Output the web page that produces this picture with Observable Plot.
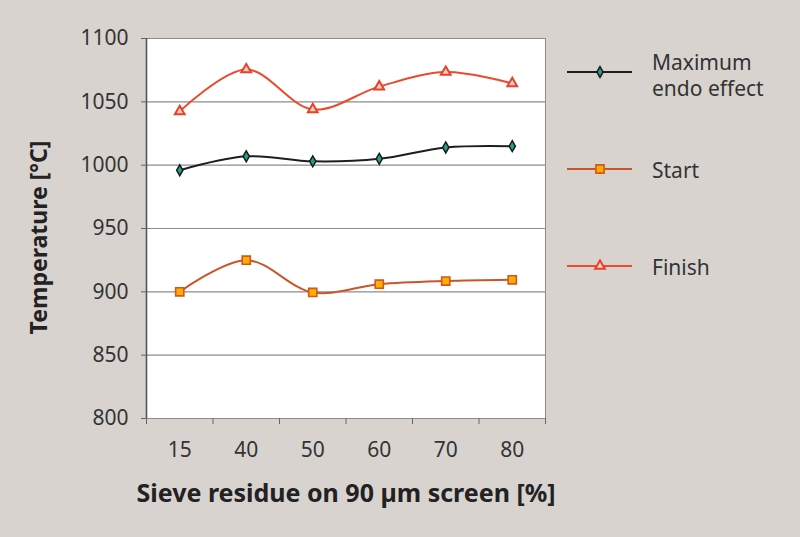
<!DOCTYPE html>
<html>
<head>
<meta charset="utf-8">
<script src="https://cdn.jsdelivr.net/npm/d3@7"></script>
<script src="https://cdn.jsdelivr.net/npm/@observablehq/plot@0.6"></script>
<style>
  html, body { margin:0; padding:0; background:#d9d3d0; }
  #wrap { position:relative; width:800px; height:537px; overflow:hidden; font-family:"Noto Sans", sans-serif; }
  #legend { position:absolute; left:0; top:0; width:800px; height:537px; pointer-events:none; }
  .lg { position:absolute; font-size:21px; color:#333; line-height:26px; white-space:nowrap; }
</style>
</head>
<body>
<div id="wrap"></div>
<script>
const categories = ["15", "40", "50", "60", "70", "80"];
const maxEndo = [996, 1007, 1003, 1005, 1014, 1015];
const start = [900, 925, 899.5, 906, 908.5, 909.5];
const finish = [1042.5, 1075.5, 1044, 1062, 1073.5, 1064.5];
const yTicks = [800, 850, 900, 950, 1000, 1050, 1100];
const seriesNames = ["Maximum endo effect", "Start", "Finish"];

const styles = {
  "Maximum endo effect": {line:"#1e1e1e", symbol:"diamond", fill:"#22a08c", stroke:"#1a1a1a", r:3.3, sw:1.5},
  "Start": {line:"#c9562a", symbol:"square", fill:"#ffb000", stroke:"#d4561a", r:4.6, sw:1.6},
  "Finish": {line:"#ec4a2c", symbol:"triangle", fill:"#fbd0c2", stroke:"#e8402a", r:3.6, sw:2}
};

const table = [];
[maxEndo, start, finish].forEach((vals, s) => {
  vals.forEach((v, i) => table.push({series: seriesNames[s], cat: categories[i], xi: i + 0.5, value: v}));
});

const lineMarks = [];
const dotMarks = [];
seriesNames.forEach(name => {
  const st = styles[name];
  const d = table.filter(r => r.series === name);
  lineMarks.push(Plot.line(d, {x:"xi", y:"value", stroke:st.line, strokeWidth:2, curve:"catmull-rom"}));
  dotMarks.push(Plot.dot(d, {x:"xi", y:"value", symbol:()=>st.symbol, fill:st.fill, stroke:st.stroke, strokeWidth:st.sw, r:st.r}));
});

const chart = Plot.plot({
  width: 800, height: 537,
  marginLeft: 146, marginRight: 255, marginTop: 38, marginBottom: 119,
  x: {domain: [0, 6]},
  y: {domain: [800, 1100]},
  symbol: {type: "identity"},
  style: {background: "transparent", fontFamily: "'Noto Sans', sans-serif", color: "#333"},
  marks: [
    Plot.frame({fill: "white", stroke: "#8c8c8c"}),
    Plot.gridY(yTicks, {stroke: "#8c8c8c", strokeOpacity: 1, strokeWidth: 1.2}),
    Plot.ruleX([0], {stroke: "#555", strokeWidth: 1.6}),
    Plot.axisY({ticks: yTicks, tickSize: 5, tickPadding: 13, fontSize: 21, tickFormat: d => String(d), label: null, stroke: "#666"}),
    Plot.axisX({ticks: d3.range(0, 7), tickSize: 6, tickFormat: () => "", label: null, stroke: "#666"}),
    Plot.axisX({ticks: categories.map((c, i) => i + 0.5), tickSize: 0, tickPadding: 24, fontSize: 21,
      tickFormat: d => categories[Math.floor(d)], label: null}),
    ...lineMarks,
    ...dotMarks,
    Plot.text(["Sieve residue on 90 µm screen [%]"], {frameAnchor: "bottom", dy: 83, fontSize: 25, fontWeight: "bold", fill: "#222"}),
    Plot.text(["Temperature [°C]"], {frameAnchor: "left", textAnchor: "middle", lineAnchor: "middle", dx: -107, dy: 9, rotate: -90, fontSize: 23, fontWeight: "bold", fill: "#222"})
  ]
});
const wrap = document.getElementById("wrap");
wrap.appendChild(chart);

// legend
const legendRows = [
  {name: "Maximum endo effect", y: 72, text: "Maximum<br>endo effect", ty: 49},
  {name: "Start", y: 169, text: "Start", ty: 157},
  {name: "Finish", y: 266, text: "Finish", ty: 254}
];
const lg = document.createElement("div");
lg.id = "legend";
let svg = `<svg width="800" height="537" style="position:absolute;left:0;top:0">`;
legendRows.forEach(r => {
  const st = styles[r.name];
  svg += `<line x1="567" x2="632" y1="${r.y}" y2="${r.y}" stroke="${st.line}" stroke-width="1.8"/>`;
  const sym = d3.symbol(st.symbol === "diamond" ? d3.symbolDiamond : st.symbol === "square" ? d3.symbolSquare : d3.symbolTriangle, st.r * st.r * Math.PI)();
  svg += `<path transform="translate(600,${r.y})" d="${sym}" fill="${st.fill}" stroke="${st.stroke}" stroke-width="${st.sw}"/>`;
});
svg += `</svg>`;
lg.innerHTML = svg + legendRows.map(r => `<div class="lg" style="left:652px;top:${r.ty}px">${r.text}</div>`).join("");
wrap.appendChild(lg);
</script>
</body>
</html>
